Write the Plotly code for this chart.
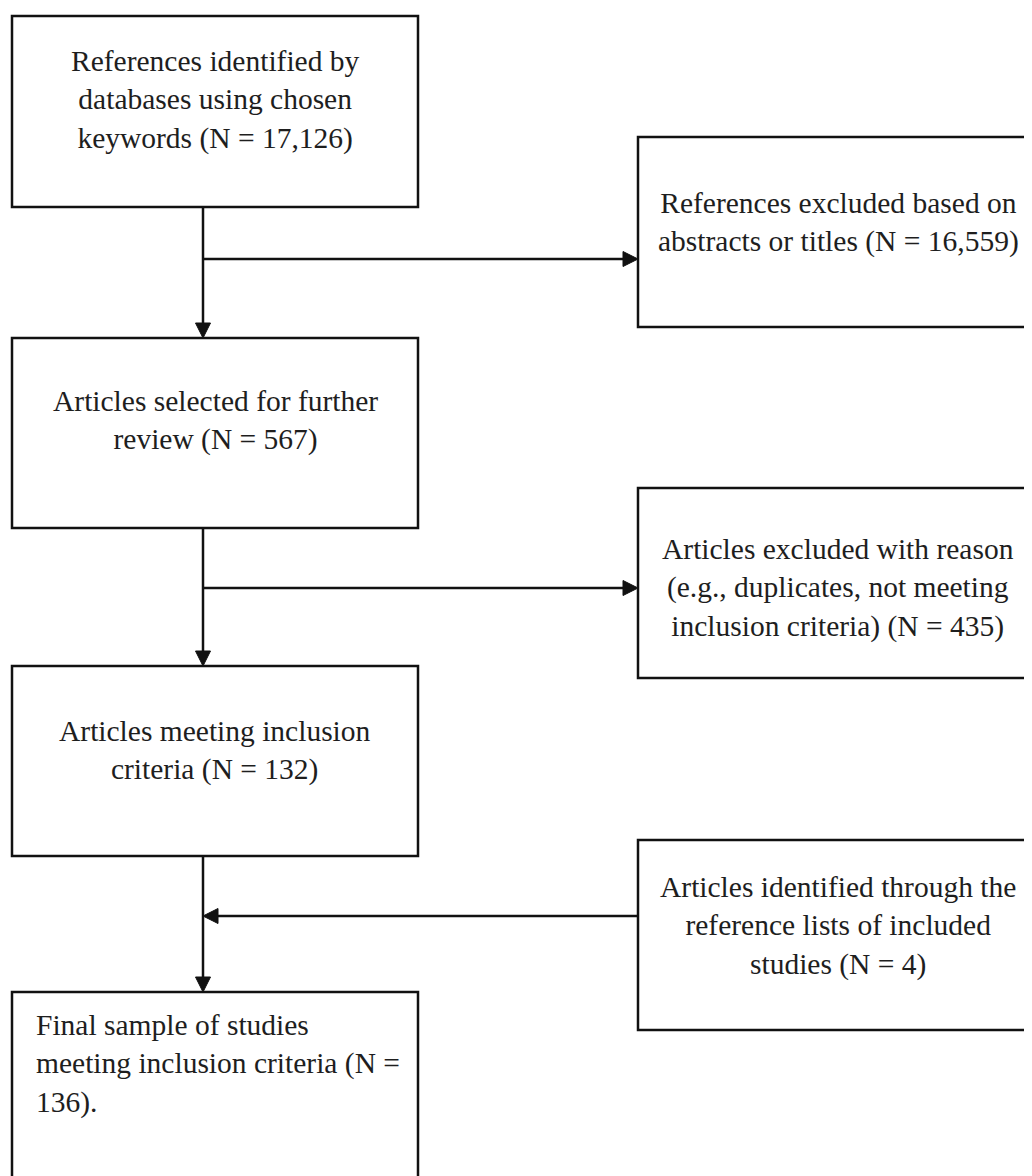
import plotly.graph_objects as go

# ---- content ----
box_texts = [
    "References identified by<br>databases using chosen<br>keywords (N = 17,126)",
    "References excluded based on<br>abstracts or titles (N = 16,559)",
    "Articles selected for further<br>review (N = 567)",
    "Articles excluded with reason<br>(e.g., duplicates, not meeting<br>inclusion criteria) (N = 435)",
    "Articles meeting inclusion<br>criteria (N = 132)",
    "Articles identified through the<br>reference lists of included<br>studies (N = 4)",
    "Final sample of studies<br>meeting inclusion criteria (N =<br>136).",
]

# ---- layout (pixel coordinates of the window) ----
W, H = 1032, 1176
PAGE_MARGIN = 8  # browser body margin
# x0, y0, x1, y1
boxes = [
    (12, 16, 418, 207),
    (638, 137, 1045, 327),
    (12, 338, 418, 528),
    (638, 488, 1045, 678),
    (12, 666, 418, 856),
    (638, 840, 1045, 1030),
    (12, 992, 418, 1195),
]
text_pos = [  # x, y center, anchor
    (215, 100, "center"),
    (838, 222, "center"),
    (215, 420, "center"),
    (838, 588, "center"),
    (215, 750, "center"),
    (838, 926, "center"),
    (34, 1064, "left"),
]
spine_x = 203
branch_y = [259, 588, 916]

fig = go.Figure()
shapes = []
LC = "#111111"
LW = 2.5

for (x0, y0, x1, y1) in boxes:
    shapes.append(dict(type="rect", x0=x0, y0=y0, x1=x1, y1=y1,
                       line=dict(color=LC, width=LW), fillcolor="rgba(0,0,0,0)",
                       xref="x", yref="y", layer="above"))

def tri(tip_x, tip_y, direction, L=15, Wd=15):
    if direction == "down":
        p = f"M{tip_x},{tip_y} L{tip_x-Wd/2},{tip_y-L} L{tip_x+Wd/2},{tip_y-L} Z"
    elif direction == "right":
        p = f"M{tip_x},{tip_y} L{tip_x-L},{tip_y-Wd/2} L{tip_x-L},{tip_y+Wd/2} Z"
    else:
        p = f"M{tip_x},{tip_y} L{tip_x+L},{tip_y-Wd/2} L{tip_x+L},{tip_y+Wd/2} Z"
    return dict(type="path", path=p, fillcolor=LC, line=dict(color=LC, width=1),
                xref="x", yref="y")

def seg(x0, y0, x1, y1):
    return dict(type="line", x0=x0, y0=y0, x1=x1, y1=y1,
                line=dict(color=LC, width=LW), xref="x", yref="y")

left_boxes = [boxes[0], boxes[2], boxes[4], boxes[6]]
for i in range(3):
    top = left_boxes[i][3]
    bot = left_boxes[i + 1][1]
    shapes.append(seg(spine_x, top, spine_x, bot - 14))
    shapes.append(tri(spine_x, bot, "down"))

shapes.append(seg(spine_x, branch_y[0], boxes[1][0] - 14, branch_y[0]))
shapes.append(tri(boxes[1][0], branch_y[0], "right"))
shapes.append(seg(spine_x, branch_y[1], boxes[3][0] - 14, branch_y[1]))
shapes.append(tri(boxes[3][0], branch_y[1], "right"))
shapes.append(seg(spine_x + 14, branch_y[2], boxes[5][0], branch_y[2]))
shapes.append(tri(spine_x, branch_y[2], "left"))

annotations = []
for t, (x, y, anc) in zip(box_texts, text_pos):
    annotations.append(dict(x=x, y=y, xref="x", yref="y", text=t, showarrow=False,
                            xanchor=anc, yanchor="middle", align=anc,
                            font=dict(family="Liberation Serif", size=29.5, color="#1e1e1e")))

fig.update_layout(
    width=W - PAGE_MARGIN, height=H - PAGE_MARGIN,
    margin=dict(l=0, r=0, t=0, b=0),
    paper_bgcolor="white", plot_bgcolor="white",
    shapes=shapes, annotations=annotations,
    xaxis=dict(range=[PAGE_MARGIN, W], visible=False, fixedrange=True),
    yaxis=dict(range=[H, PAGE_MARGIN], visible=False, fixedrange=True),
    showlegend=False,
)
fig.write_html("out.html")
